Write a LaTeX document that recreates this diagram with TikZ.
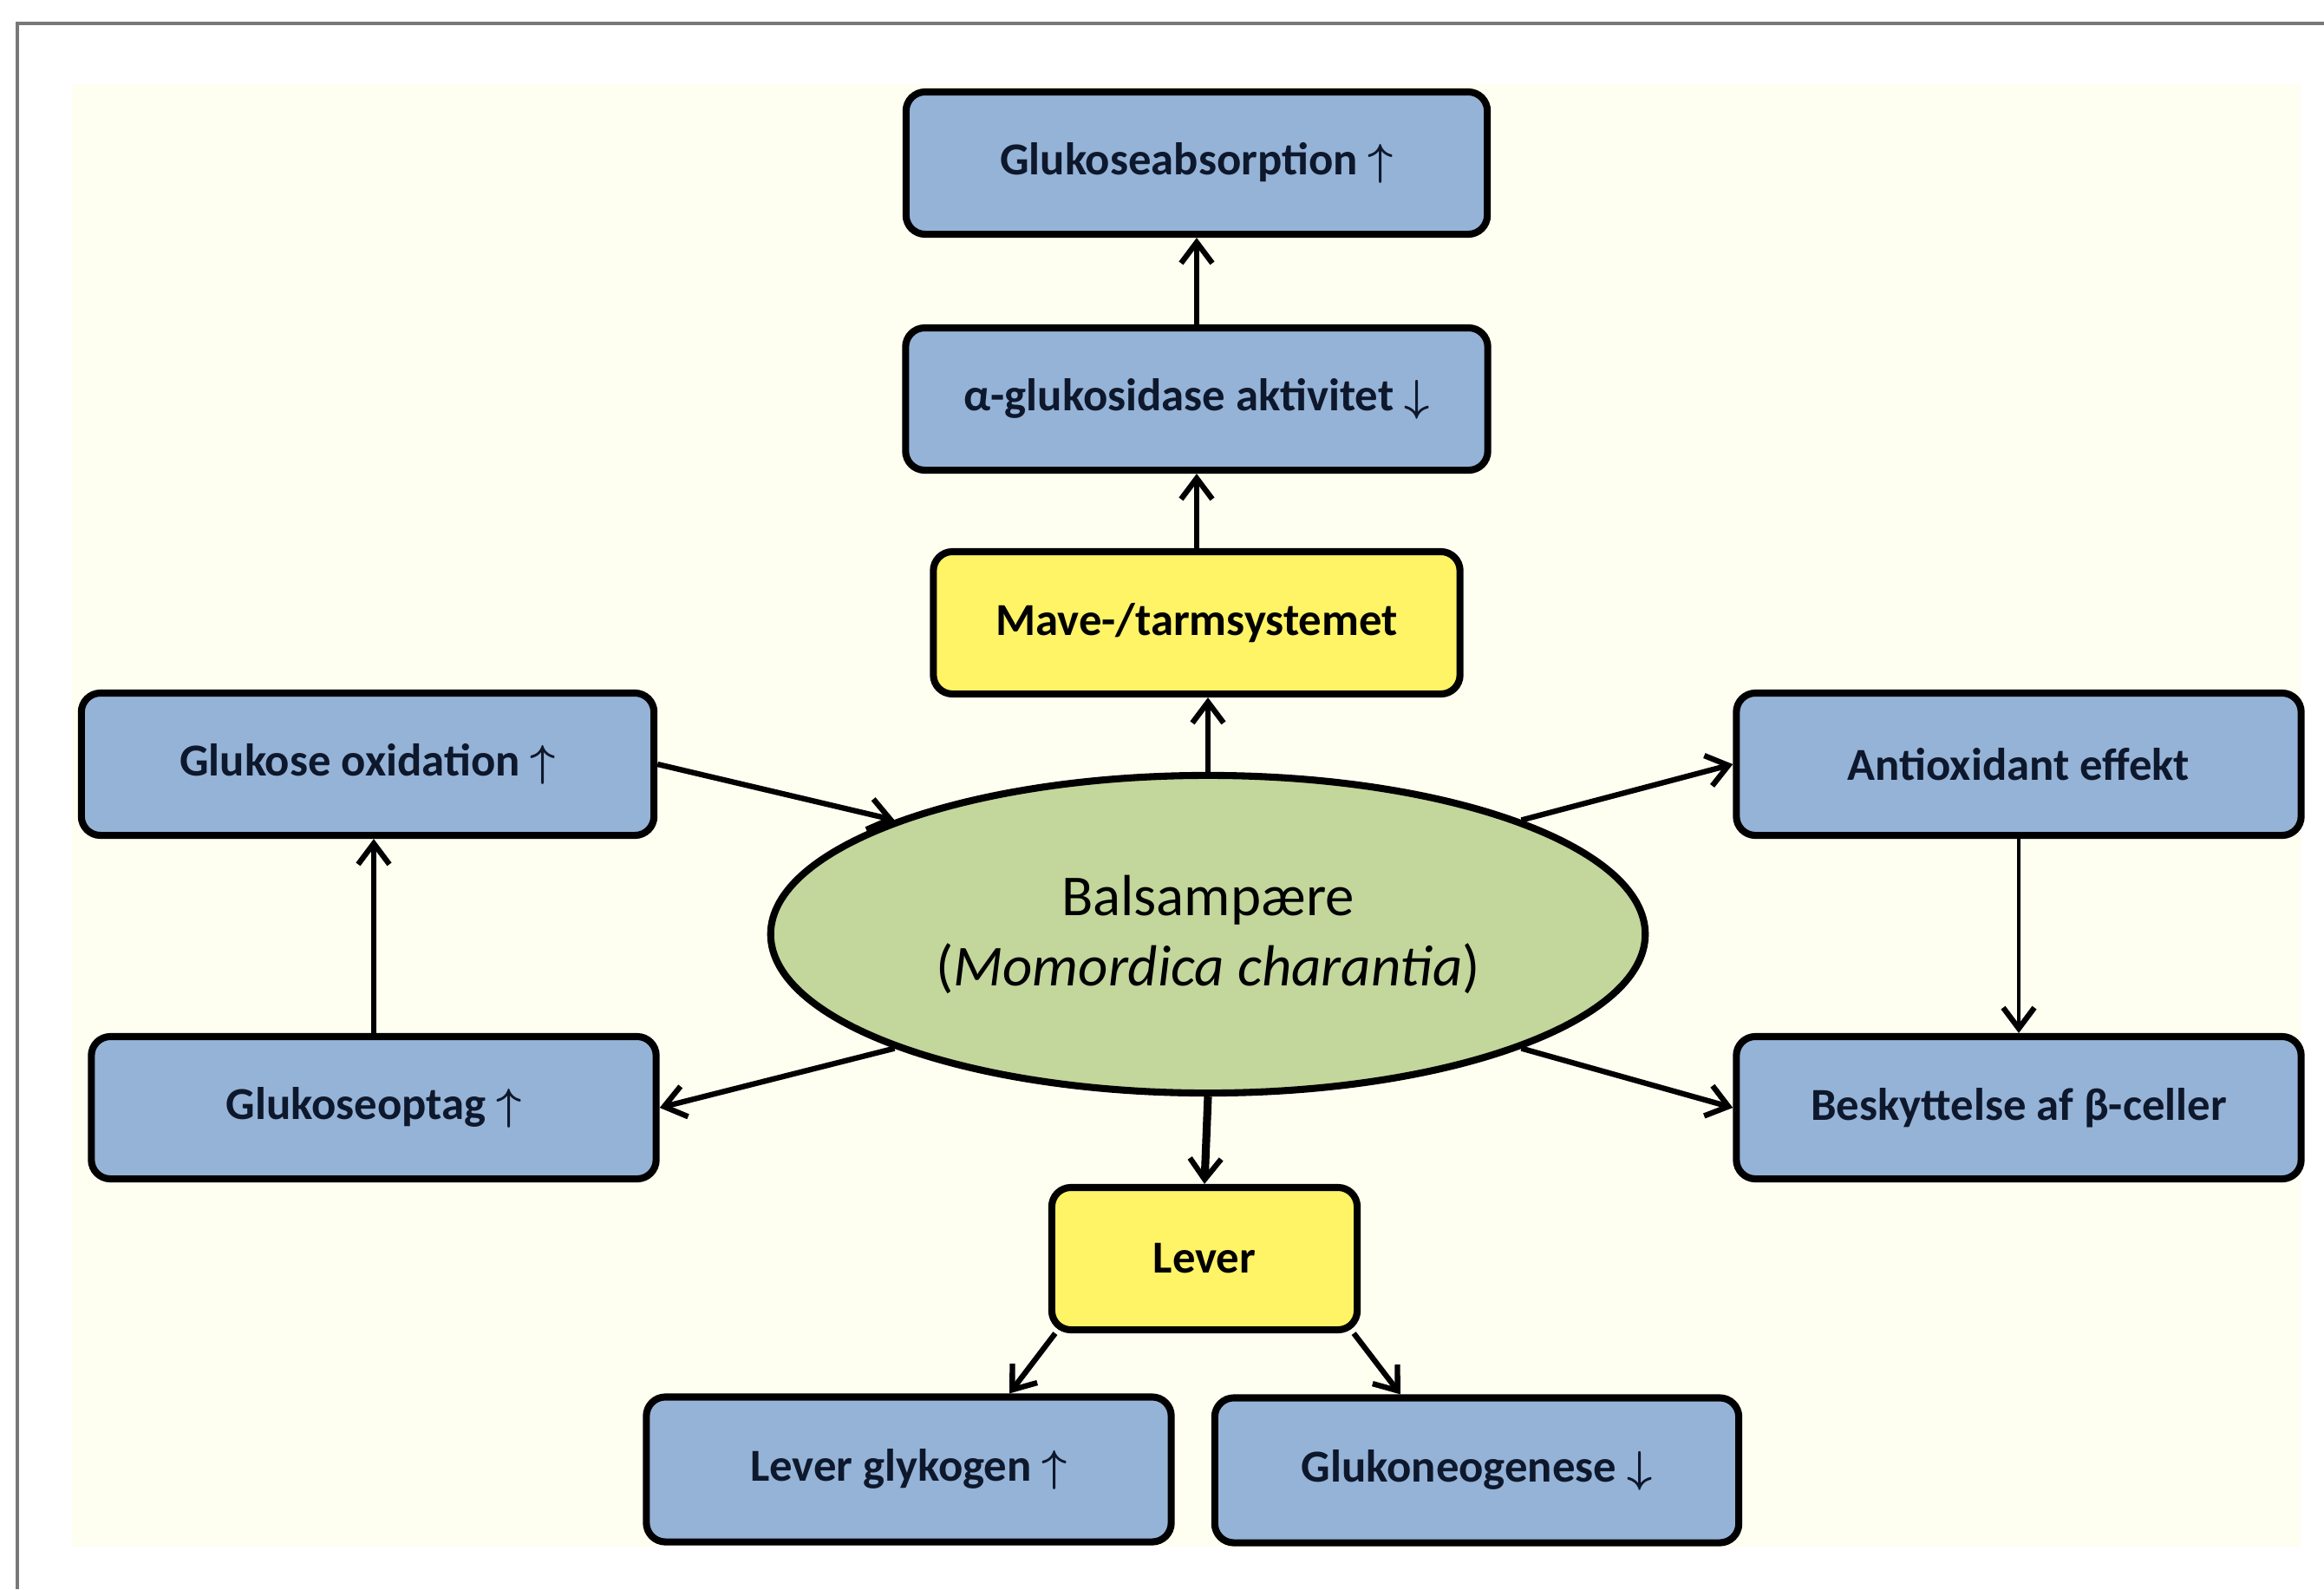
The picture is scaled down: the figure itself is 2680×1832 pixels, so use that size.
\documentclass[tikz,border=0pt]{standalone}
\usepackage{fontspec}
\setmainfont{Carlito}
\usetikzlibrary{arrows.meta, shapes.geometric, calc}

\definecolor{creambg}{RGB}{254,254,241}
\definecolor{boxblue}{RGB}{149,179,215}
\definecolor{boxyellow}{RGB}{255,243,102}
\definecolor{plantgreen}{RGB}{195,214,155}
\definecolor{navytext}{RGB}{14,24,44}
\definecolor{framegray}{RGB}{120,120,120}

\tikzset{
  effectbox/.style={draw=black, line width=2.3pt, rounded corners=0.22cm, fill=boxblue,
    minimum height=1.64cm, text=navytext, font=\fontsize{15}{18}\selectfont\bfseries}
}
\tikzset{
  organbox/.style={effectbox, fill=boxyellow, text=black}
}
\tikzset{
  plantnode/.style={ellipse, draw=black, line width=2.3pt, fill=plantgreen, inner sep=0pt,
    minimum width=10.08cm, minimum height=3.66cm, align=center, font=\fontsize{19}{23}\selectfont},
  link/.style={line width=1.8pt, ->}
}
\newcommand{\opp}{{\boldmath$\uparrow$}}
\newcommand{\ned}{{\boldmath$\downarrow$}}

\begin{document}
\begin{tikzpicture}[x=0.01cm, y=-0.01cm, >={Straight Barb[length=2.4mm,width=3.6mm,line width=1.8pt]}]
      \useasboundingbox (0,0) rectangle (2680,1832);
      \fill[creambg] (83,97) rectangle (2653,1783);
      \draw[framegray, line width=1.2pt] (20,1832) -- (20,27) -- (2680,27);

      \node[plantnode] (plant) at (1393,1077) {Balsampære\\(\textit{Momordica charantia})};
      \node[organbox, minimum width=6.07cm] (mave) at (1380,718) {Mave-/tarmsystemet};
      \node[effectbox, minimum width=6.71cm] (alpha) at (1380,460) {α-glukosidase aktivitet \ned};
      \node[effectbox, minimum width=6.7cm] (absorp) at (1380,188) {Glukoseabsorption \opp};
      \node[effectbox, minimum width=6.6cm] (oxid) at (424,881) {Glukose oxidation \opp};
      \node[effectbox, minimum width=6.51cm] (optag) at (431,1277) {Glukoseoptag \opp};
      \node[effectbox, minimum width=6.51cm] (antiox) at (2328,881) {Antioxidant effekt};
      \node[effectbox, minimum width=6.51cm] (beskyt) at (2328,1277) {Beskyttelse af β-celler};
      \node[organbox, minimum width=3.52cm] (lever) at (1389,1451) {Lever};
      \node[effectbox, minimum width=6.05cm, minimum height=1.67cm] (glyk) at (1048,1694) {Lever glykogen \opp};
      \node[effectbox, minimum width=6.04cm, minimum height=1.67cm] (gneo) at (1703,1695) {Glukoneogenese \ned};

      % gut branch
      \draw[link] (plant.north) -- (plant.north |- mave.south);
      \draw[link] (mave) -- (alpha);
      \draw[link] (alpha) -- (absorp);
      % side branches
      \draw[link] (oxid.east) -- (plant.160);
      \draw[link] (optag.north) -- (optag.north |- oxid.south);
      \foreach \ang/\target in {200/optag.east, 20/antiox.west, 340/beskyt.west}
        \draw[link] (plant.\ang) -- (\target);
      \draw[->, line width=1.2pt] (antiox) -- (beskyt);
      % liver branch
      \draw[->, line width=2.6pt] (plant.south) -- (lever.north);
      \draw[link] ([xshift=0.08cm]lever.south west) -- ([xshift=1.16cm]glyk.north);
      \draw[link] ([xshift=-0.08cm]lever.south east) -- ([xshift=-0.88cm]gneo.north);
    \end{tikzpicture}
\end{document}
